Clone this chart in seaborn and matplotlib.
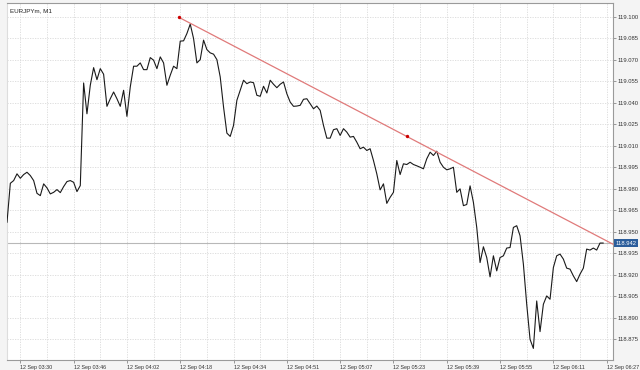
import numpy as np
import pandas as pd
import matplotlib
matplotlib.use("Agg")
import matplotlib.pyplot as plt
import matplotlib.transforms as mtrans
import seaborn as sns

symbol_title = "EURJPYm, M1"

close = [
    118.9565, 118.9838, 118.9857, 118.9904, 118.9873, 118.9899, 118.9915, 118.9892, 118.9857, 118.9768,
    118.9752, 118.9834, 118.9806, 118.9764, 118.9775, 118.9794, 118.9773, 118.9815, 118.9850, 118.9857,
    118.9845, 118.9780, 118.9822, 119.0538, 119.0323, 119.0522, 119.0645, 119.0561, 119.0638, 119.0599,
    119.0375, 119.0428, 119.0475, 119.0428, 119.0375, 119.0487, 119.0305, 119.0510, 119.0655, 119.0655,
    119.0678, 119.0631, 119.0631, 119.0715, 119.0697, 119.0638, 119.0720, 119.0678, 119.0522, 119.0592,
    119.0655, 119.0638, 119.0830, 119.0832, 119.0883, 119.0949, 119.0848, 119.0678, 119.0701, 119.0837,
    119.0771, 119.0748, 119.0739, 119.0701, 119.0580, 119.0370, 119.0188, 119.0165, 119.0242, 119.0417,
    119.0487, 119.0557, 119.0533, 119.0545, 119.0540, 119.0452, 119.0445, 119.0515, 119.0468, 119.0557,
    119.0529, 119.0505, 119.0529, 119.0545, 119.0463, 119.0405, 119.0375, 119.0377, 119.0382, 119.0424,
    119.0428, 119.0393, 119.0358, 119.0377, 119.0347, 119.0242, 119.0153, 119.0153, 119.0212, 119.0219,
    119.0172, 119.0219, 119.0195, 119.0160, 119.0165, 119.0125, 119.0079, 119.0090, 119.0067, 119.0079,
    118.9997, 118.9904, 118.9792, 118.9834, 118.9698, 118.9740, 118.9775, 118.9997, 118.9899, 118.9974,
    118.9969, 118.9985, 118.9969, 118.9960, 118.9950, 118.9939, 119.0009, 119.0055, 119.0032, 119.0062,
    118.9985, 118.9950, 118.9932, 118.9939, 118.9950, 118.9775, 118.9799, 118.9682, 118.9690, 118.9820,
    118.9705, 118.9530, 118.9285, 118.9395, 118.9320, 118.9185, 118.9332, 118.9227, 118.9320, 118.9332,
    118.9386, 118.9390, 118.9530, 118.9542, 118.9472, 118.9274, 118.8994, 118.8749, 118.8686, 118.9017,
    118.8803, 118.8994, 118.9052, 118.9029, 118.9250, 118.9332, 118.9344, 118.9309, 118.9246, 118.9239,
    118.9192, 118.9152, 118.9204, 118.9246, 118.9379, 118.9372, 118.9386, 118.9372, 118.9421, 118.9421,
]

time_labels = ["12 Sep 03:30", "12 Sep 03:46", "12 Sep 04:02", "12 Sep 04:18",
               "12 Sep 04:34", "12 Sep 04:51", "12 Sep 05:07", "12 Sep 05:23",
               "12 Sep 05:39", "12 Sep 05:55", "12 Sep 06:11", "12 Sep 06:27"]
label_bars = [4, 20, 36, 52, 68, 84, 100, 116, 132, 148, 164, 180]

price_ticks = [119.100, 119.085, 119.070, 119.055, 119.040, 119.025, 119.010,
               118.995, 118.980, 118.965, 118.950, 118.935, 118.920, 118.905,
               118.890, 118.875]

current_price = 118.942
trend_bars = [51.6, 120]
trend_prices = [119.0996, 119.0165]

df = pd.DataFrame({"bar": np.arange(len(close)), "close": close})

sns.set_style("white")
plt.rcParams["font.family"] = ["Liberation Sans", "DejaVu Sans"]

fig = plt.figure(figsize=(6.4, 3.7), dpi=100, facecolor="#f4f4f4")
ax = fig.add_axes([7 / 640, 10 / 370, 606 / 640, 357 / 370])
ax.set_facecolor("white")

x_left, x_right = 0.0, 181.9

# current price line
ax.axhline(current_price, color="#b8b8b8", linewidth=0.8, zorder=2)

# price series
sns.lineplot(data=df, x="bar", y="close", ax=ax, color="#1a1a1a", linewidth=0.8, zorder=4)

# trend line (ray to the right edge)
slope = (trend_prices[1] - trend_prices[0]) / (trend_bars[1] - trend_bars[0])
end_y = trend_prices[0] + slope * (x_right - trend_bars[0])
ax.plot([trend_bars[0], x_right], [trend_prices[0], end_y], color="#e07a7a",
        linewidth=0.9, zorder=5, clip_on=False)
ax.scatter(trend_bars, trend_prices, s=6, color="#cc0000", zorder=6, linewidths=0)

ax.set_xlim(x_left, x_right)
ax.set_ylim(118.8605, 119.1096)
ax.set_xlabel("")
ax.set_ylabel("")

# grid
ax.set_yticks(price_ticks)
ax.set_xticks(label_bars)
ax.set_xticks([b + 8 for b in label_bars], minor=True)
ax.grid(True, which="both", linestyle=(0, (1.5, 1.5)), color="#d9d9d9", linewidth=0.6)
ax.set_axisbelow(True)
ax.set_xlim(x_left, x_right)

# axis formatting
ax.yaxis.tick_right()
ax.set_yticklabels([f"{v:.3f}" for v in price_ticks])
ax.set_xticklabels(time_labels)
for lab in ax.get_xticklabels():
    lab.set_horizontalalignment("left")
ax.tick_params(axis="y", which="major", direction="out", length=2, width=0.6,
               color="#888888", labelsize=4.2, labelcolor="#333333", pad=1.5, right=True, left=False)
ax.tick_params(axis="x", which="major", direction="out", length=2, width=0.6,
               color="#888888", labelsize=3.9, labelcolor="#333333", pad=1.5, bottom=True)
ax.tick_params(axis="x", which="minor", length=0)

for side, sp in ax.spines.items():
    sp.set_color("#9a9a9a")
    sp.set_linewidth(0.8)
ax.spines["left"].set_color("#dddddd")

# title
ax.text(0.005, 0.985, symbol_title, transform=ax.transAxes, fontsize=4.5,
        color="#222222", ha="left", va="top")

# current price tag
trans = mtrans.blended_transform_factory(ax.transAxes, ax.transData)
ax.text(1.004, current_price, f"{current_price:.3f}", transform=trans, fontsize=4.2,
        color="white", ha="left", va="center", zorder=10, clip_on=False,
        bbox=dict(boxstyle="square,pad=0.3", facecolor="#2b5d9b", edgecolor="none"))

fig.savefig("out.png", dpi=100, facecolor=fig.get_facecolor())
